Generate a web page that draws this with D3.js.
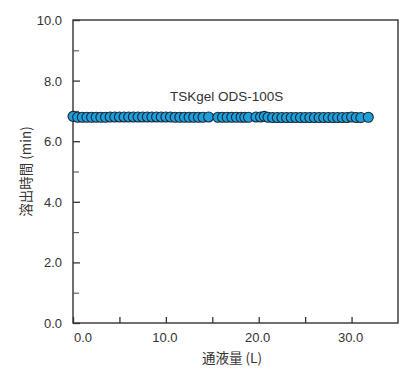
<!DOCTYPE html>
<html>
<head>
<meta charset="utf-8">
<script src="https://cdn.jsdelivr.net/npm/d3@7"></script>
<style>
  body { margin: 0; background: #fff; }
  svg text { font-family: "Liberation Sans", Arial, sans-serif; fill: #333; }
</style>
</head>
<body>
<div id="chart"></div>
<script>
// 通液量 (L)
const volume = [
  0.0, 0.5, 1.0, 1.5, 2.0, 2.5, 3.0, 3.5, 4.0, 4.5, 5.0, 5.5, 6.0, 6.5, 7.0,
  7.5, 8.0, 8.5, 9.0, 9.5, 10.0, 10.5, 11.0, 11.5, 12.0, 12.5, 13.0, 13.5, 14.0, 14.6,
  15.6, 16.1, 16.6, 17.1, 17.6, 18.1, 18.5, 18.9,
  19.7, 20.2, 20.6, 21.0, 21.5, 22.0, 22.5, 23.0, 23.5, 24.0, 24.5, 25.0, 25.5,
  26.0, 26.5, 27.0, 27.5, 28.0, 28.5, 29.0, 29.5, 30.0, 30.5, 31.0, 31.8
];
// 溶出時間 (min)
const elution = [
  6.82, 6.79, 6.79, 6.79, 6.79, 6.79, 6.79, 6.79, 6.80, 6.80, 6.80, 6.80, 6.80, 6.80, 6.80,
  6.80, 6.80, 6.80, 6.80, 6.80, 6.80, 6.80, 6.79, 6.79, 6.79, 6.79, 6.79, 6.79, 6.79, 6.80,
  6.79, 6.79, 6.79, 6.79, 6.79, 6.79, 6.79, 6.79,
  6.80, 6.80, 6.82, 6.79, 6.78, 6.78, 6.78, 6.78, 6.78, 6.78, 6.78, 6.78, 6.78,
  6.78, 6.78, 6.78, 6.78, 6.78, 6.78, 6.78, 6.78, 6.80, 6.78, 6.78, 6.79
];
const yTicks = [0, 2, 4, 6, 8, 10];
const yMinor = [1, 3, 5, 7, 9];
const xTicks = [0, 10, 20, 30];
const xMinor = [5, 15, 25];
const seriesLabel = "TSKgel ODS-100S";

const width = 400, height = 371;
const margin = { top: 20, right: 2, bottom: 48, left: 73 };

const svg = d3.select("#chart").append("svg")
  .attr("width", width)
  .attr("height", height);

const x = d3.scaleLinear().domain([0, 35]).range([margin.left, width - margin.right]);
const y = d3.scaleLinear().domain([0, 10]).range([height - margin.bottom, margin.top]);

// 枠
svg.append("rect")
  .attr("x", x(0)).attr("y", y(10))
  .attr("width", x(35) - x(0)).attr("height", y(0) - y(10))
  .attr("fill", "none").attr("stroke", "#333").attr("stroke-width", 1.4);

// y軸 目盛り (内向き)
const yAxis = svg.append("g").attr("transform", `translate(${x(0)},0)`)
  .call(d3.axisRight(y).tickValues(yTicks).tickSize(7).tickFormat(""));
yAxis.select(".domain").remove();
yAxis.selectAll("line").attr("stroke", "#333").attr("stroke-width", 1.3);
svg.append("g").attr("transform", `translate(${x(0)},0)`)
  .call(d3.axisRight(y).tickValues(yMinor).tickSize(6).tickFormat(""))
  .call(g => g.select(".domain").remove())
  .selectAll("line").attr("stroke", "#555").attr("stroke-width", 1.1);

svg.append("g").selectAll("text")
  .data(yTicks).enter().append("text")
  .attr("x", x(0) - 11)
  .attr("y", d => y(d) + 5)
  .attr("text-anchor", "end")
  .attr("font-size", "13px")
  .text(d => d.toFixed(1));

// x軸 目盛り (内向き)
svg.append("g").attr("transform", `translate(0,${y(0)})`)
  .call(d3.axisTop(x).tickValues(xTicks.concat(xMinor)).tickSize(6).tickFormat(""))
  .call(g => g.select(".domain").remove())
  .selectAll("line").attr("stroke", "#333").attr("stroke-width", 1.3);

svg.append("g").selectAll("text")
  .data(xTicks).enter().append("text")
  .attr("x", d => x(d) + (d === 0 ? 10 : -1))
  .attr("y", y(0) + 19)
  .attr("text-anchor", "middle")
  .attr("font-size", "13px")
  .text(d => d.toFixed(1));

// 軸タイトル
svg.append("text")
  .attr("x", 232).attr("y", 363)
  .attr("text-anchor", "middle")
  .attr("font-size", "13.5px")
  .style("font-family", "'Noto Sans CJK JP', sans-serif")
  .text("通液量 (L)");

svg.append("text")
  .attr("transform", `translate(31,${(y(0) + y(10)) / 2}) rotate(-90)`)
  .attr("text-anchor", "middle")
  .attr("font-size", "13.5px")
  .style("font-family", "'Noto Sans CJK JP', sans-serif")
  .text("溶出時間 (min)");

// 系列ラベル
svg.append("text")
  .attr("x", 170).attr("y", 101)
  .attr("font-size", "13.5px")
  .attr("fill", "#222")
  .text(seriesLabel);

// データ点
svg.append("g").selectAll("circle")
  .data(volume.map((v, i) => ({ v: v, t: elution[i] })))
  .enter().append("circle")
  .attr("cx", d => x(d.v))
  .attr("cy", d => y(d.t))
  .attr("r", 5)
  .attr("fill", "#1d9fdc")
  .attr("stroke", "#1a2633")
  .attr("stroke-width", 1.1);
</script>
</body>
</html>
